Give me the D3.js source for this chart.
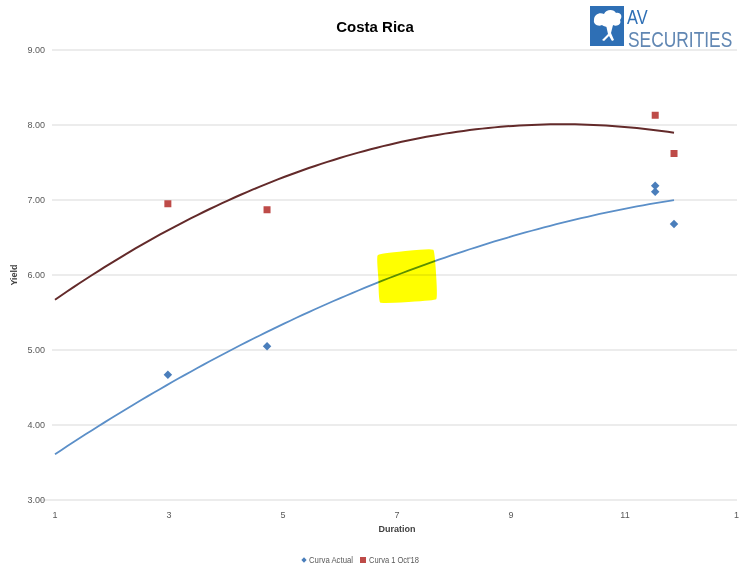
<!DOCTYPE html>
<html>
<head>
<meta charset="utf-8">
<script src="https://cdn.jsdelivr.net/npm/d3@7"></script>
<style>
  html, body { margin: 0; padding: 0; background: #fff; }
  svg { display: block; font-family: "Liberation Sans", Arial, sans-serif; }
</style>
</head>
<body>
<svg id="chart" width="739" height="567"></svg>
<script>
// Bond yields by duration
const seriesNames = ["Curva Actual", "Curva 1 Oct'18"];
const actualDuration = [2.98, 4.72, 11.53, 11.53, 11.86];
const actualYield    = [4.67, 5.05, 7.19, 7.11, 6.68];
const octDuration    = [2.98, 4.72, 11.53, 11.86];
const octYield       = [6.95, 6.87, 8.13, 7.62];

// Polynomial (order 2) trendlines: [c, b, a] for y = c + b*x + a*x^2
const actualTrend = [3.0876, 0.5401, -0.01773];
const octTrend    = [5.1148, 0.5849, -0.02954];
const trendStart  = 1;

const xTicks = [1, 3, 5, 7, 9, 11, 13];
const yTicks = [3, 4, 5, 6, 7, 8, 9];

// Highlighter mark around duration 7, yield 6
const highlight = [[6.68, 6.25], [7.15, 6.3], [7.62, 6.32], [7.66, 6.0], [7.67, 5.69], [7.2, 5.66], [6.72, 5.65], [6.7, 5.95]];

const svg = d3.select("#chart");
const x = d3.scaleLinear().domain([1, 13]).range([55, 739]);
const y = d3.scaleLinear().domain([3, 9]).range([500, 50]);

// gridlines (the bottom one doubles as the x axis line)
svg.append("g").selectAll("line").data(yTicks).join("line")
  .attr("x1", d => d === 3 ? 40 : x(1) - 3).attr("x2", 737)
  .attr("y1", d => y(d)).attr("y2", d => y(d))
  .attr("stroke", "#d9d9d9").attr("stroke-width", 1);

// y tick labels
svg.append("g").selectAll("text").data(yTicks).join("text")
  .attr("x", 45).attr("y", d => y(d) + 3)
  .attr("text-anchor", "end").attr("font-size", 9).attr("fill", "#595959")
  .text(d => d3.format(".2f")(d));

// x tick labels
svg.append("g").selectAll("text").data(xTicks).join("text")
  .attr("x", d => x(d)).attr("y", 518)
  .attr("text-anchor", "middle").attr("font-size", 9).attr("fill", "#595959")
  .text(d => d);

// axis titles
svg.append("text").attr("x", x(7)).attr("y", 532)
  .attr("text-anchor", "middle").attr("font-size", 9).attr("font-weight", "bold")
  .attr("fill", "#404040").text("Duration");
svg.append("text").attr("transform", `translate(17,${y(6)}) rotate(-90)`)
  .attr("text-anchor", "middle").attr("font-size", 9).attr("font-weight", "bold")
  .attr("fill", "#404040").text("Yield");

// title
svg.append("text").attr("x", 375).attr("y", 32)
  .attr("text-anchor", "middle").attr("font-size", 15).attr("font-weight", "bold")
  .attr("fill", "#000").text("Costa Rica");

// trendlines
function trendPath(coef, x0, x1) {
  const pts = d3.range(0, 101).map(i => {
    const xv = x0 + (x1 - x0) * i / 100;
    return [xv, coef[0] + coef[1] * xv + coef[2] * xv * xv];
  });
  return d3.line().x(d => x(d[0])).y(d => y(d[1]))(pts);
}
svg.append("path").attr("d", trendPath(octTrend, trendStart, d3.max(octDuration)))
  .attr("fill", "none").attr("stroke", "#632a2a").attr("stroke-width", 2);
svg.append("path").attr("d", trendPath(actualTrend, trendStart, d3.max(actualDuration)))
  .attr("fill", "none").attr("stroke", "#5b8fc8").attr("stroke-width", 1.8);

// markers
svg.append("g").selectAll("rect").data(octDuration.map((d, i) => [d, octYield[i]])).join("rect")
  .attr("x", d => x(d[0]) - 3.5).attr("y", d => y(d[1]) - 3.5)
  .attr("width", 7).attr("height", 7).attr("fill", "#be4b48");
svg.append("g").selectAll("path").data(actualDuration.map((d, i) => [d, actualYield[i]])).join("path")
  .attr("transform", d => `translate(${x(d[0])},${y(d[1])}) rotate(45)`)
  .attr("d", d3.symbol(d3.symbolSquare, 36)).attr("fill", "#4a7ebb");

// highlighter
svg.append("path")
  .attr("d", d3.line().x(d => x(d[0])).y(d => y(d[1])).curve(d3.curveCardinalClosed.tension(0.8))(highlight))
  .attr("fill", "#ffff00").attr("stroke", "#ffff00").attr("stroke-width", 3)
  .attr("stroke-linejoin", "round").style("mix-blend-mode", "multiply");

// legend
const legend = svg.append("g").attr("font-size", 8.5).attr("fill", "#595959");
legend.append("path").attr("transform", "translate(304,560) rotate(45)")
  .attr("d", d3.symbol(d3.symbolSquare, 14)).attr("fill", "#4a7ebb");
legend.append("text").attr("x", 309).attr("y", 563)
  .attr("textLength", 44).attr("lengthAdjust", "spacingAndGlyphs").text(seriesNames[0]);
legend.append("rect").attr("x", 360).attr("y", 557).attr("width", 6).attr("height", 6).attr("fill", "#be4b48");
legend.append("text").attr("x", 369).attr("y", 563)
  .attr("textLength", 50).attr("lengthAdjust", "spacingAndGlyphs").text(seriesNames[1]);

// logo
const logo = svg.append("g");
logo.append("rect").attr("x", 590).attr("y", 6).attr("width", 34).attr("height", 40).attr("fill", "#2e6fb5");
logo.append("path")
  .attr("d", "M594,20 C594,14 600,12 604,14 C606,9 614,9 616,13 C621,12 623,17 620,20 C622,24 617,27 613,25 C610,28 604,27 602,25 C598,27 593,24 594,20 Z")
  .attr("fill", "#fff");
logo.append("path")
  .attr("d", "M606,25 L608,34 L602,40 L604,41 L609,36 L612,41 L614,40 L611,33 L613,25 Z")
  .attr("fill", "#fff");
logo.append("text").attr("transform", "translate(627,24) scale(0.78,1)").attr("font-size", 21)
  .attr("fill", "#2e6fb5").text("AV");
logo.append("text").attr("transform", "translate(628,47) scale(0.79,1)").attr("font-size", 22)
  .attr("fill", "#6187b3").text("SECURITIES");
</script>
</body>
</html>
